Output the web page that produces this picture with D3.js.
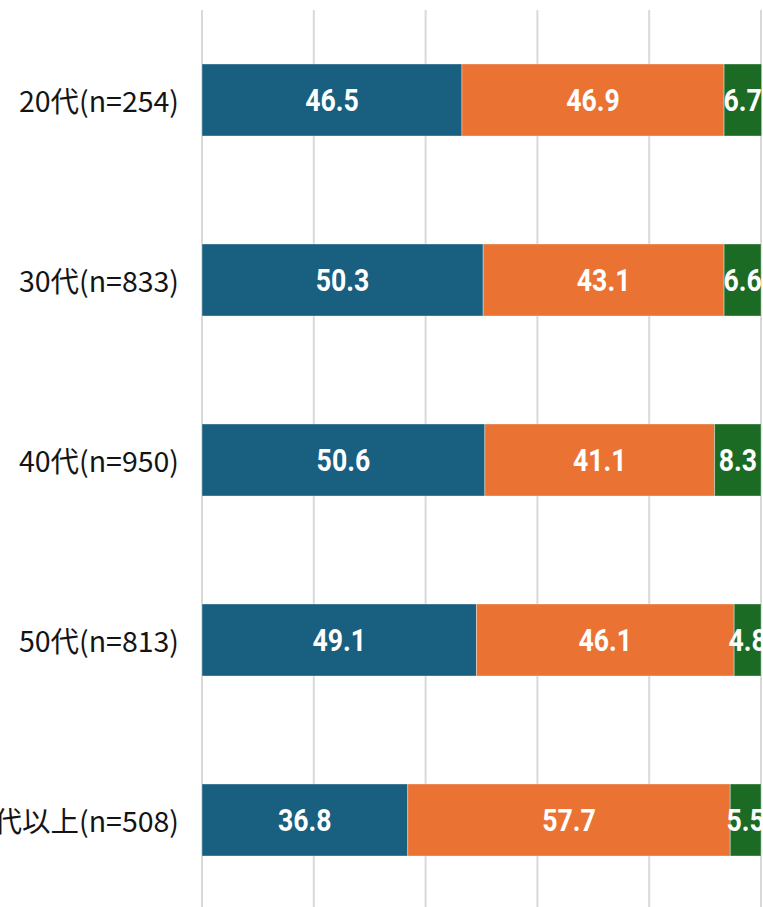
<!DOCTYPE html>
<html><head><meta charset="utf-8">
<script src="https://cdn.jsdelivr.net/npm/d3@7"></script>
<style>html,body{margin:0;padding:0;background:#fff;overflow:hidden}</style>
</head><body>
<svg id="c" width="763" height="907"></svg>
<script>
const categories = ["20代(n=254)", "30代(n=833)", "40代(n=950)", "50代(n=813)", "60代以上(n=508)"];
const seriesA = [46.5, 50.3, 50.6, 49.1, 36.8];
const seriesB = [46.9, 43.1, 41.1, 46.1, 57.7];
const seriesC = [6.7, 6.6, 8.3, 4.8, 5.5];
const xTicks = [0, 20, 40, 60, 80, 100];
const colors = ["#185f80", "#ea7333", "#1b6b25"];

const svg = d3.select("#c");
const x = d3.scaleLinear().domain([0, 100]).range([202, 761]);
const y = d3.scaleBand().domain(categories).range([10, 910]).paddingInner(0.6).paddingOuter(0.3);

svg.append("g").selectAll("line").data(xTicks).join("line")
  .attr("x1", d => x(d)).attr("x2", d => x(d))
  .attr("y1", 10).attr("y2", 907)
  .attr("stroke", "#d9d9d9").attr("stroke-width", 2);

const rows = categories.map((c, i) => ({cat: c, vals: [seriesA[i], seriesB[i], seriesC[i]]}));
const segs = [];
rows.forEach(r => {
  let acc = 0;
  r.vals.forEach((v, k) => { segs.push({cat: r.cat, k, v, x0: acc, x1: acc + v}); acc += v; });
});

svg.append("g").selectAll("rect").data(segs).join("rect")
  .attr("x", d => x(d.x0)).attr("width", d => Math.max(0, Math.min(x(d.x1), 762) - x(d.x0)))
  .attr("y", d => y(d.cat)).attr("height", y.bandwidth())
  .attr("fill", d => colors[d.k])
  .attr("stroke", "#ffffff").attr("stroke-opacity", 0.35).attr("stroke-width", 1);

const cxOf = d => (x(d.x0) + Math.min(x(d.x1), 761)) / 2;
svg.append("g").selectAll("text").data(segs).join("text")
  .attr("x", d => cxOf(d))
  .attr("y", d => y(d.cat) + y.bandwidth() / 2)
  .attr("dy", "0.365em")
  .attr("text-anchor", "middle")
  .attr("fill", "#fff")
  .attr("font-family", "Roboto, 'Liberation Sans', sans-serif")
  .attr("font-weight", "bold")
  .attr("font-size", 31)
  .attr("transform", d => `translate(${cxOf(d)},0) scale(0.86,1) translate(${-cxOf(d)},0)`)
  .text(d => d.v.toFixed(1));

svg.append("g").selectAll("text").data(categories).join("text")
  .attr("x", 179)
  .attr("y", d => y(d) + y.bandwidth() / 2)
  .attr("dy", "0.42em")
  .attr("text-anchor", "end")
  .attr("fill", "#141414")
  .attr("font-family", "'Noto Sans CJK JP', 'Noto Sans', sans-serif")
  .attr("font-size", 28.5)
  .text(d => d);
</script>
</body></html>
